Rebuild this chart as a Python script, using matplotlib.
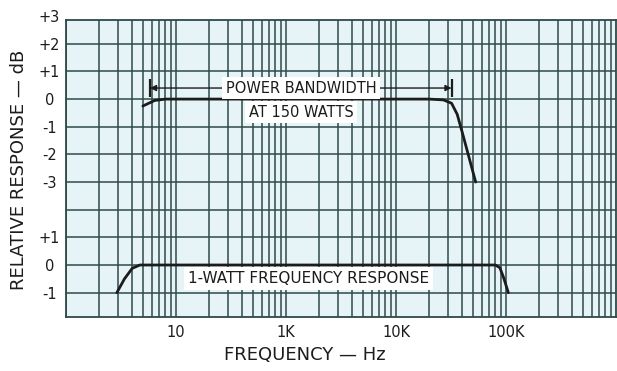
import numpy as np
import matplotlib
matplotlib.use("Agg")
import matplotlib.pyplot as plt

# Power response at 150 W (upper panel), dB re midband
power_freq_hz = [50, 64, 80, 1000, 20000, 27000, 32000, 36000, 40000, 53000]
power_db = [-0.25, -0.05, 0.0, 0.0, 0.0, -0.03, -0.15, -0.55, -1.2, -3.0]

# Small-signal response at 1 W (lower panel), dB re midband
watt1_freq_hz = [29, 34, 40, 47, 1000, 80000, 88000, 95000, 105000]
watt1_db = [-1.0, -0.5, -0.12, 0.0, 0.0, 0.0, -0.1, -0.45, -1.0]

# Power bandwidth limits (arrow ends)
bandwidth_hz = [58, 32000]

x_ticks_hz = [100, 1000, 10000, 100000]
x_tick_labels = ["10", "1K", "10K", "100K"]

upper_ticks = [2, 1, 0, -1, -2, -3]
upper_labels = ["+2", "+1", "0", "-1", "-2", "-3"]
lower_ticks = [1, 0, -1]
lower_labels = ["+1", "0", "-1"]

LOWER_OFFSET = -6  # vertical shift of the 1-watt panel on the shared grid

grid_col = "#2e4a48"
ink = "#1c1c1c"

fig = plt.figure(figsize=(6.17, 3.71), dpi=100)
ax = fig.add_axes([66 / 617, 54 / 371, 550 / 617, 297 / 371])
ax.set_facecolor("#e7f4f7")
ax.set_xscale("log")
ax.set_xlim(10, 1e6)
ax.set_ylim(-7.88, 2.86)

# log-paper grid: every 1..9 in each decade
for dec in [10, 100, 1000, 10000, 100000]:
    for k in range(1, 10):
        ax.axvline(dec * k, color=grid_col, lw=1.1, zorder=1)
for yv in range(-7, 3):
    ax.axhline(yv, color=grid_col, lw=1.1, zorder=1)

for s in ax.spines.values():
    s.set_color(grid_col)
    s.set_linewidth(1.3)

# curves
ax.plot(power_freq_hz, power_db, color=ink, lw=2.0, zorder=4, solid_capstyle="round")
ax.plot(watt1_freq_hz, np.array(watt1_db) + LOWER_OFFSET, color=ink, lw=2.0,
        zorder=4, solid_capstyle="round")

# power bandwidth arrow with end bars
ax.annotate("", xy=(bandwidth_hz[0], 0.4), xytext=(bandwidth_hz[1], 0.4),
            arrowprops=dict(arrowstyle="<|-|>", color=ink, lw=1.0,
                            mutation_scale=9, shrinkA=0, shrinkB=0), zorder=5)
ax.plot(bandwidth_hz, [0.4, 0.4], linestyle="none", marker="|", ms=13, mew=1.6,
        color=ink, zorder=5)

box = dict(boxstyle="square,pad=0.25", fc="white", ec="none")
ax.text(1370, 0.4, "POWER BANDWIDTH", ha="center", va="center", fontsize=10.5,
        color=ink, bbox=box, zorder=6)
ax.text(1370, -0.47, "AT 150 WATTS", ha="center", va="center", fontsize=10.5,
        color=ink, bbox=box, zorder=6)
ax.text(1600, -6.49, "1-WATT FREQUENCY RESPONSE", ha="center", va="center",
        fontsize=11, color=ink, bbox=box, zorder=6)

# axis ticks
ax.set_xticks(x_ticks_hz)
ax.set_xticklabels(x_tick_labels)
ax.xaxis.set_minor_locator(matplotlib.ticker.NullLocator())
ax.set_yticks(upper_ticks + [t + LOWER_OFFSET for t in lower_ticks])
ax.set_yticklabels(upper_labels + lower_labels, ha="center")
ax.tick_params(axis="both", length=0, labelsize=10.5, colors=ink)
ax.tick_params(axis="y", pad=12)
ax.tick_params(axis="x", pad=6)
ax.text(-0.031, 1.01, "+3", transform=ax.transAxes, ha="center", va="center",
        fontsize=10.5, color=ink)

fig.text(19 / 617, 1 - 170 / 371, "RELATIVE RESPONSE — dB", rotation=90,
         ha="center", va="center", fontsize=13, color=ink)
fig.text(305 / 617, 1 - 355 / 371, "FREQUENCY — Hz", ha="center", va="center",
         fontsize=13, color=ink)

fig.savefig("out.png", dpi=100, facecolor="white")
